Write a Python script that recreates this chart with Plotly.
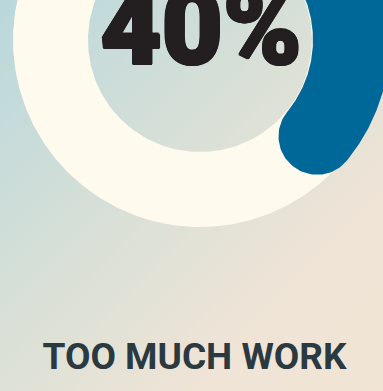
import base64
import numpy as np
import plotly.graph_objects as go

# ---- data ----
categories = ["TOO MUCH WORK", "OTHER"]
values = [40, 60]
center_label = "40%"
title_label = "TOO MUCH WORK"

# ---- style / layout params ----
W, H = 383, 391
cx, cy = 200, 40            # donut centre (px, y down)
track_out, track_in = 187, 112
arc_out, arc_in = 190, 113
track_color = "#fefaee"
arc_color = "#006898"

share = values[0] / sum(values)
theta_end = 360 * share


def pt(r, deg):
    t = np.radians(deg)
    return cx + r * np.sin(t), cy - r * np.cos(t)


def annulus(r_out, r_in, n=361):
    a = np.linspace(0, 360, n)
    xo, yo = pt(r_out, a)
    xi, yi = pt(r_in, a[::-1])
    return np.concatenate([xo, xi, xo[:1]]), np.concatenate([yo, yi, yo[:1]])


def rounded_arc(r_out, r_in, deg0, deg1, n=200):
    mid = (r_out + r_in) / 2
    half = (r_out - r_in) / 2
    d = np.degrees(half / mid)
    a0, a1 = deg0 + d, deg1 - d
    a = np.linspace(a0, a1, n)
    xo, yo = pt(r_out, a)
    ecx, ecy = pt(mid, a1)
    p = np.radians(np.linspace(0, 180, 60))
    t1 = np.radians(a1)
    ux, uy = np.sin(t1), -np.cos(t1)
    tx, ty = np.cos(t1), np.sin(t1)
    cxs = ecx + half * (ux * np.cos(p) + tx * np.sin(p))
    cys = ecy + half * (uy * np.cos(p) + ty * np.sin(p))
    xi, yi = pt(r_in, a[::-1])
    scx, scy = pt(mid, a0)
    t0 = np.radians(a0)
    ux0, uy0 = np.sin(t0), -np.cos(t0)
    tx0, ty0 = np.cos(t0), np.sin(t0)
    sxs = scx + half * (-ux0 * np.cos(p) - tx0 * np.sin(p))
    sys_ = scy + half * (-uy0 * np.cos(p) - ty0 * np.sin(p))
    X = np.concatenate([xo, cxs, xi, sxs, xo[:1]])
    Y = np.concatenate([yo, cys, yi, sys_, yo[:1]])
    return X, Y


svg = f'''<svg xmlns="http://www.w3.org/2000/svg" width="{W}" height="{H}" viewBox="0 0 {W} {H}">
<defs><linearGradient id="g" x1="0" y1="0" x2="1" y2="1">
<stop offset="0" stop-color="#b9d8dc"/>
<stop offset="0.5" stop-color="#dee1d6"/>
<stop offset="0.75" stop-color="#efe4d6"/>
<stop offset="1" stop-color="#f1e4d5"/>
</linearGradient></defs>
<rect width="{W}" height="{H}" fill="url(#g)"/></svg>'''
bg_uri = "data:image/svg+xml;base64," + base64.b64encode(svg.encode()).decode()

fig = go.Figure()

tx_, ty_ = annulus(track_out, track_in)
fig.add_trace(go.Scatter(x=tx_, y=ty_, mode="lines", fill="toself",
                         fillcolor=track_color, line=dict(width=0),
                         hoverinfo="skip", name=categories[1]))

ax_, ay_ = rounded_arc(arc_out, arc_in, 0, theta_end)
fig.add_trace(go.Scatter(x=ax_, y=ay_, mode="lines", fill="toself",
                         fillcolor=arc_color, line=dict(width=0),
                         hoverinfo="skip", name=categories[0]))

thick = ", ".join(f"{dx}px {dy}px 0 #231f20" for dx, dy in
                  [(1.5, 0), (-1.5, 0), (0, 1.5), (0, -1.5), (1, 1), (-1, -1), (1, -1), (-1, 1)])
fig.add_trace(go.Scatter(x=[201], y=[37], mode="text", text=[center_label],
                         textposition="middle center",
                         textfont=dict(family="Roboto", size=106, color="#231f20",
                                       weight=900, shadow=thick),
                         hoverinfo="skip"))

fig.add_trace(go.Scatter(x=[194.5], y=[359.5], mode="text", text=[title_label],
                         textposition="middle center",
                         textfont=dict(family="Roboto", size=37, color="#2b3940", weight=700),
                         hoverinfo="skip"))

fig.update_layout(
    width=W, height=H, margin=dict(l=0, r=0, t=0, b=0),
    showlegend=False,
    paper_bgcolor="rgba(0,0,0,0)", plot_bgcolor="rgba(0,0,0,0)",
    xaxis=dict(range=[0, W], visible=False, fixedrange=True),
    yaxis=dict(range=[H, 0], visible=False, fixedrange=True),
    images=[dict(source=bg_uri, xref="paper", yref="paper", x=0, y=1,
                 sizex=1, sizey=1, sizing="stretch", layer="below",
                 xanchor="left", yanchor="top")],
)

fig.write_html("out.html", config={"displayModeBar": False})
